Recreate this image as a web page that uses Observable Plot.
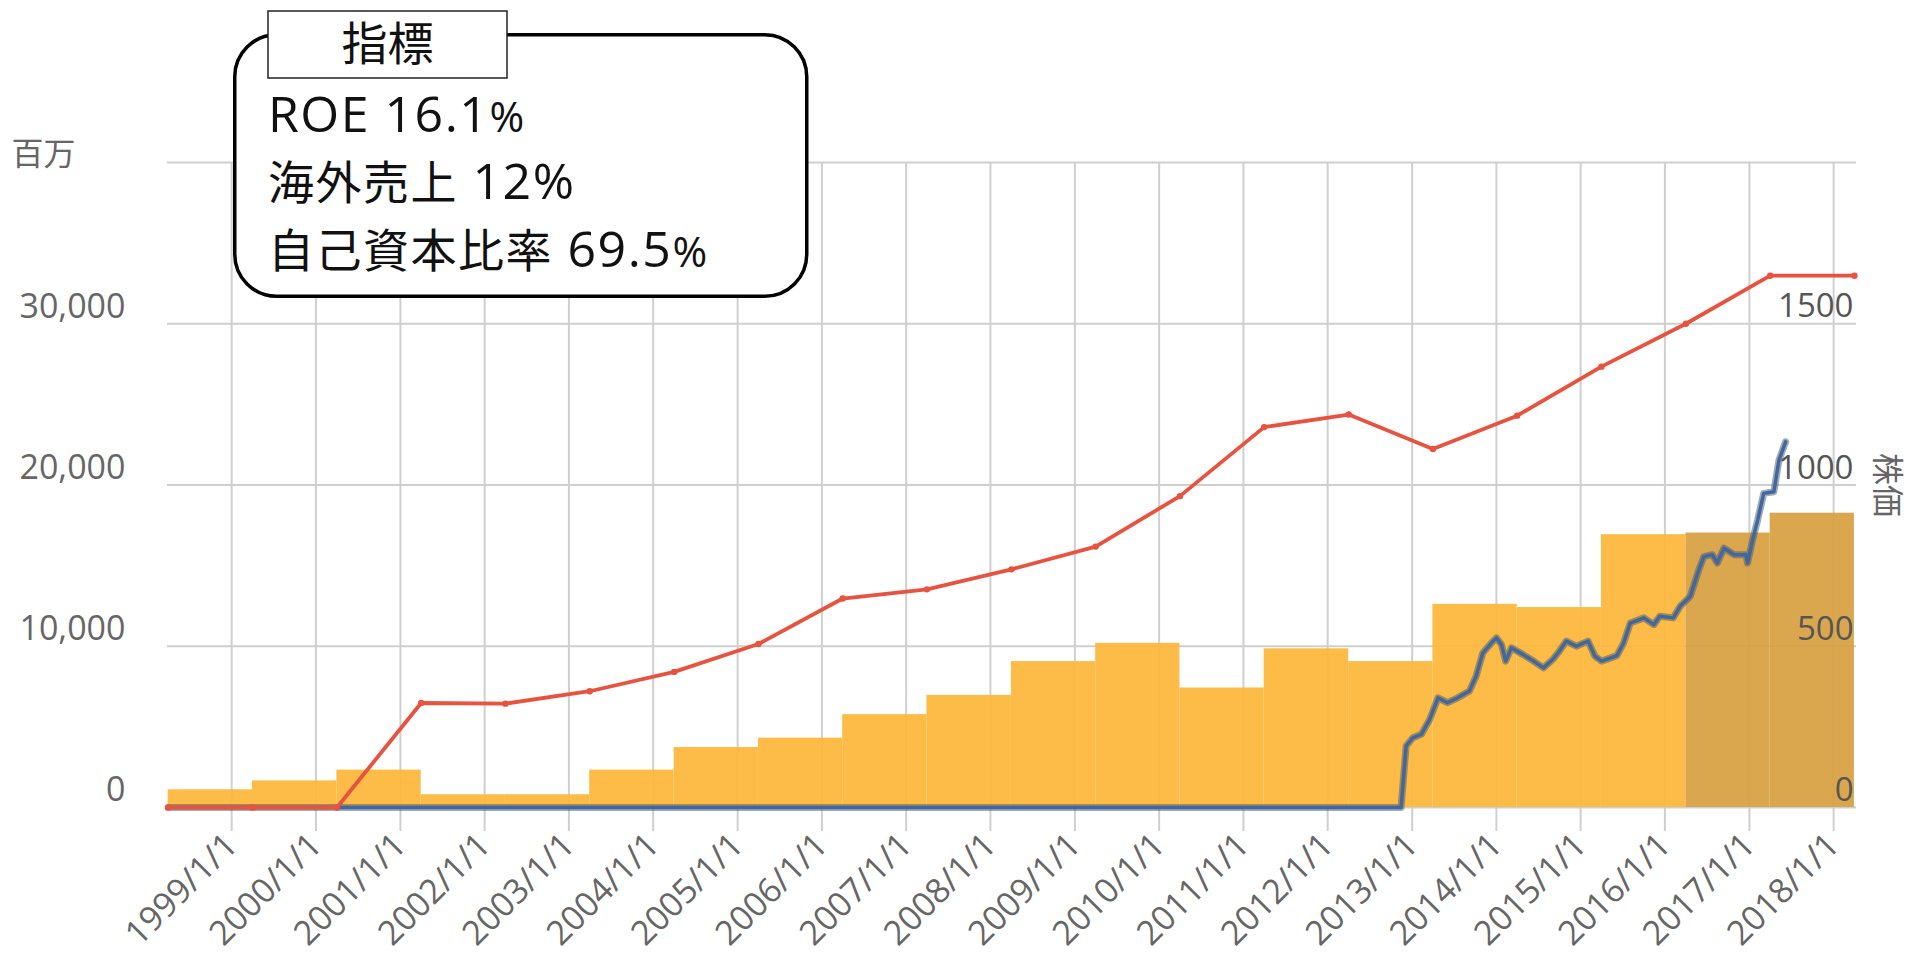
<!DOCTYPE html>
<html>
<head>
<meta charset="utf-8">
<script src="https://cdn.jsdelivr.net/npm/d3@7"></script>
<script src="https://cdn.jsdelivr.net/npm/@observablehq/plot@0.6"></script>
<style>
  html, body { margin: 0; padding: 0; background: #fff; }
  #wrap { position: relative; width: 1915px; height: 960px; overflow: hidden; }
  #note { position: absolute; left: 0; top: 0; }
</style>
</head>
<body>
<div id="wrap"></div>
<script>
// ---- data ----
// fiscal period boundaries (April each year)
const fyDates = [
  "1998-04-01","1999-04-01","2000-04-01","2001-04-01","2002-04-01","2003-04-01","2004-04-01",
  "2005-04-01","2006-04-01","2007-04-01","2008-04-01","2009-04-01","2010-04-01","2011-04-01",
  "2012-04-01","2013-04-01","2014-04-01","2015-04-01","2016-04-01","2017-04-01","2018-04-01"
];
// red line (百万, left axis)
const redValues = [
  0, 0, 0, 6480, 6440, 7210, 8410, 10140, 12960, 13530, 14770, 16180, 19310,
  23590, 24370, 22230, 24300, 27340, 30000, 32980, 32980
];
// orange step bars (百万, left axis), one per fiscal year
const barValues = [
  1100, 1650, 2320, 790, 790, 2320, 3720, 4300, 5760, 6950, 9050, 10180,
  7410, 9840, 9050, 12600, 12400, 16920, 17020, 18250
];
// stock price (株価, right axis)
const priceDates = [
  "1998-04-01","2012-11-14","2012-12-06","2013-01-04","2013-02-10","2013-03-18","2013-04-23",
  "2013-06-03","2013-07-17","2013-09-06","2013-10-05","2013-11-03","2013-12-10","2014-01-01",
  "2014-01-23","2014-02-10","2014-03-07","2014-04-27","2014-06-11","2014-07-24","2014-09-02",
  "2014-10-01","2014-10-31","2014-12-13","2015-02-02","2015-03-04","2015-04-02","2015-06-07",
  "2015-07-06","2015-08-04","2015-10-02","2015-11-14","2015-12-10","2016-02-06","2016-03-07",
  "2016-04-20","2016-05-27","2016-06-18","2016-07-24","2016-08-15","2016-09-13","2016-10-27",
  "2016-12-17","2016-12-24","2017-01-15","2017-02-06","2017-03-04","2017-04-17","2017-05-09",
  "2017-06-07"
];
const priceValues = [
  0, 0, 191, 216, 227, 273, 340,
  325, 340, 361, 407, 479, 510, 526,
  505, 454, 495, 474, 454, 433, 459,
  485, 516, 500, 516, 469, 454, 471,
  510, 572, 588, 567, 593, 588, 624,
  655, 737, 778, 784, 758, 804, 784,
  784, 758, 830, 892, 974, 979, 1077,
  1134
];
const leftTicks = [0, 10000, 20000, 30000];
const gridTicks = [0, 10000, 20000, 30000, 40000];
const rightTicks = [0, 500, 1000, 1500];
const tickYears = [1999,2000,2001,2002,2003,2004,2005,2006,2007,2008,2009,2010,2011,2012,2013,2014,2015,2016,2017,2018];
const leftUnit = "百万";
const rightTitle = "株価";
const noteTitle = "指標";
// [CJK part, latin part, percent sign]
const noteLines = [["", "ROE 16.1", "%"], ["海外売上", " 12%", ""], ["自己資本比率", " 69.5", "%"]];

// ---- build ----
const parse = d3.utcParse("%Y-%m-%d");
const fy = fyDates.map(parse);
const red = fy.map((d, i) => ({date: d, v: redValues[i]}));
const bars = barValues.map((v, i) => ({start: fy[i], end: fy[i + 1], v, late: i >= barValues.length - 2}));
const ratio = 20; // right axis value * 20 = left axis units
const price = priceDates.map((d, i) => ({date: parse(d), v: priceValues[i] * ratio}));
const tickDates = tickYears.map(y => new Date(Date.UTC(y, 0, 1)));

const ORANGE = "#fdb83b";
const DARK = "#d8a243";
const RED = "#e8533f";
const GREY = "#cfcfcf";
const LABEL = "#666";
const LATIN = '"Open Sans", "Noto Sans CJK JP", sans-serif';
const CJK = '"Noto Sans CJK JP", "Noto Sans", sans-serif';

const chart = Plot.plot({
  width: 1915,
  height: 960,
  marginLeft: 167,
  marginRight: 59,
  marginTop: 162,
  marginBottom: 153,
  style: {fontFamily: LATIN, background: "transparent"},
  x: {type: "utc", domain: [parse("1998-03-29"), parse("2018-04-10")]},
  y: {domain: [0, 40000]},
  marks: [
    Plot.gridY({ticks: gridTicks, stroke: GREY, strokeOpacity: 1, strokeWidth: 2}),
    Plot.gridX({ticks: tickDates, stroke: GREY, strokeOpacity: 1, strokeWidth: 2}),
    Plot.rect(bars, {x1: "start", x2: "end", y1: 0, y2: "v", fill: d => d.late ? DARK : ORANGE, fillOpacity: 0.94}),
    Plot.axisX({ticks: tickDates, tickSize: 24, tickPadding: 8, tickRotate: -45, label: null,
      tickFormat: d => `${d.getUTCFullYear()}/1/1`, fontSize: 34, fill: LABEL, stroke: GREY, strokeWidth: 2}),
    Plot.axisY({ticks: leftTicks, tickSize: 0, tickPadding: 42, tickFormat: d3.format(","), label: null,
      fontSize: 34, fill: LABEL, dy: -17}),
    Plot.text(rightTicks, {y: d => d * ratio, text: d => String(d), frameAnchor: "right",
      textAnchor: "end", dx: -3, dy: -17, fontSize: 33, fill: "#555"}),
    Plot.text([rightTitle], {frameAnchor: "right", textAnchor: "middle", dx: 30, rotate: 90,
      fontSize: 32, fill: LABEL, fontFamily: CJK}),
    Plot.text([leftUnit], {frameAnchor: "top-left", textAnchor: "start", lineAnchor: "middle",
      dx: -156, dy: -8, fontSize: 32, fill: LABEL, fontFamily: CJK}),
    Plot.line(price, {x: "date", y: "v", stroke: "#4a5566", strokeOpacity: 0.5, strokeWidth: 7, strokeLinejoin: "round"}),
    Plot.line(price, {x: "date", y: "v", stroke: "#3e68a3", strokeWidth: 3.5, strokeLinejoin: "round"}),
    Plot.line(red, {x: "date", y: "v", stroke: RED, strokeWidth: 3.8}),
    Plot.dot(red, {x: "date", y: "v", r: 3.2, fill: RED})
  ]
});
document.getElementById("wrap").appendChild(chart);

// ---- annotation box (指標) ----
const ns = "http://www.w3.org/2000/svg";
const note = document.createElementNS(ns, "svg");
note.setAttribute("id", "note");
note.setAttribute("width", 1915);
note.setAttribute("height", 320);
function el(tag, attrs, parent) {
  const e = document.createElementNS(ns, tag);
  for (const k in attrs) e.setAttribute(k, attrs[k]);
  parent.appendChild(e);
  return e;
}
el("rect", {x: 234.75, y: 34.75, width: 572, height: 261.5, rx: 42, ry: 42,
  fill: "#fff", stroke: "#000", "stroke-width": 3.5}, note);
el("rect", {x: 268, y: 11, width: 239, height: 67, fill: "#fff", stroke: "#222", "stroke-width": 1.5}, note);
const t = el("text", {x: 387.5, y: 60, "text-anchor": "middle", "font-size": 46, fill: "#111",
  "font-family": CJK}, note);
t.textContent = noteTitle;
const baselines = [132, 199, 267];
noteLines.forEach(([cjk, latin, pct], i) => {
  const tx = el("text", {x: 268, y: baselines[i], fill: "#111", "letter-spacing": 1.5}, note);
  if (cjk) { const a = el("tspan", {"font-size": 46, "font-family": CJK}, tx); a.textContent = cjk; }
  const b = el("tspan", {"font-size": 50, "font-family": LATIN}, tx); b.textContent = latin;
  if (pct) { const c = el("tspan", {"font-size": 42, "font-family": LATIN}, tx); c.textContent = pct; }
});
document.getElementById("wrap").appendChild(note);
</script>
</body>
</html>
